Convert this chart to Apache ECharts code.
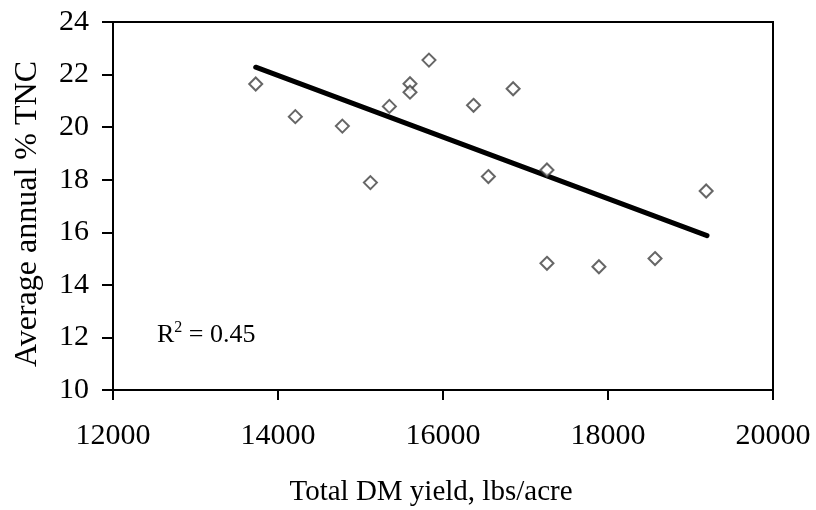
<!DOCTYPE html>
<html>
<head>
<meta charset="utf-8">
<script src="https://cdn.jsdelivr.net/npm/echarts@6/dist/echarts.min.js"></script>
<style>
  html, body { margin: 0; padding: 0; background: #fff; }
  #chart { width: 816px; height: 510px; }
</style>
</head>
<body>
<div id="chart"></div>
<script>
// 散点数据：总干物质产量 vs 年均 TNC
const yieldValues = [13730, 14210, 14780, 15120, 15350, 15600, 15600, 15830, 16370, 16550, 16850, 17260, 17260, 17890, 18570, 19190];
const tncValues = [21.64, 20.40, 20.04, 17.89, 20.79, 21.65, 21.33, 22.55, 20.83, 18.12, 21.46, 18.37, 14.82, 14.69, 15.00, 17.57];
// 趋势线两端
const trendX = [13730, 19200];
const trendY = [22.28, 15.87];
const xTicks = [12000, 14000, 16000, 18000, 20000];
const yTicks = [10, 12, 14, 16, 18, 20, 22, 24];
const r2Text = "0.45";

const font = "'Liberation Serif', 'Times New Roman', serif";
const chart = echarts.init(document.getElementById("chart"));

const points = yieldValues.map((x, i) => [x, tncValues[i]]);
const trend = trendX.map((x, i) => [x, trendY[i]]);

const option = {
	animation: false,
	backgroundColor: "#fff",
	textStyle: { fontFamily: font, color: "#000" },
	grid: {
		left: 113,
		right: 43,
		top: 22,
		bottom: 120,
		// 不要自动收缩绘图区
		outerBoundsMode: "none",
		containLabel: false,
		show: true,
		borderColor: "#000",
		borderWidth: 2,
		backgroundColor: "transparent"
	},
	xAxis: {
		type: "value",
		min: xTicks[0],
		max: xTicks[xTicks.length - 1],
		interval: 2000,
		name: "Total DM yield, lbs/acre",
		nameLocation: "middle",
		nameGap: 88,
		// 标题略偏左
		nameTextStyle: { fontFamily: font, fontSize: 29, color: "#000", padding: [0, 24, 0, 0] },
		axisLine: { lineStyle: { color: "#000", width: 2 } },
		axisTick: { show: true, inside: false, length: 10, lineStyle: { color: "#000", width: 2 } },
		axisLabel: {
			margin: 31,
			fontFamily: font,
			fontSize: 30,
			color: "#000",
			formatter: (v) => String(v)
		},
		splitLine: { show: false }
	},
	yAxis: {
		type: "value",
		min: yTicks[0],
		max: yTicks[yTicks.length - 1],
		interval: 2,
		name: "Average annual % TNC",
		nameLocation: "middle",
		nameGap: 69,
		nameTextStyle: { fontFamily: font, fontSize: 32, color: "#000", padding: [0, 16, 0, 0] },
		axisLine: { lineStyle: { color: "#000", width: 2 } },
		axisTick: { show: true, inside: false, length: 11, lineStyle: { color: "#000", width: 2 } },
		axisLabel: { margin: 24, fontFamily: font, fontSize: 30, color: "#000" },
		splitLine: { show: false }
	},
	series: [
		{
			name: "trend",
			type: "line",
			data: trend,
			symbol: "none",
			lineStyle: { color: "#000", width: 5, cap: "round" },
			z: 2
		},
		{
			name: "TNC",
			type: "scatter",
			data: points,
			symbol: "diamond",
			symbolSize: 13,
			itemStyle: { color: "#fff", borderColor: "#404040", borderWidth: 2 },
			z: 3
		}
	],
	graphic: [
		{
			type: "text",
			left: 157,
			top: 320,
			style: {
				text: "{r|R}{s|2}{r| = " + r2Text + "}",
				fontFamily: font,
				rich: {
					r: { fontFamily: font, fontSize: 26, color: "#000", verticalAlign: "bottom" },
					s: { fontFamily: font, fontSize: 16, color: "#000", verticalAlign: "top", padding: [0, 0, 12, 0] }
				}
			}
		}
	]
};

chart.setOption(option);
</script>
</body>
</html>
